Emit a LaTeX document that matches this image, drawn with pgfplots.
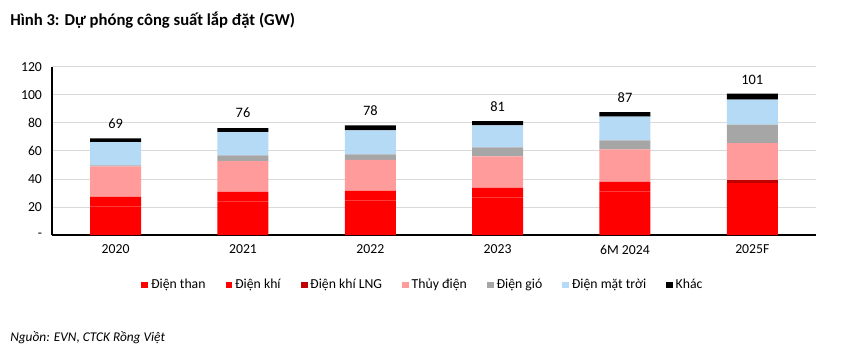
\documentclass[border=0pt]{standalone}
\usepackage{pgfplots}
\pgfplotsset{compat=1.18}
\usepackage{pgfplotstable}
\usepackage{fontspec}
\setmainfont{Carlito}
\definecolor{cThan}{HTML}{FF0000}
\definecolor{cKhi}{HTML}{FF0000}
\definecolor{cLNG}{HTML}{C00000}
\definecolor{cThuy}{HTML}{FF9B9B}
\definecolor{cGio}{HTML}{A6A6A6}
\definecolor{cMT}{HTML}{B4DAF5}
\definecolor{cKhac}{HTML}{000000}
\pgfplotstableread{
x than khi lng thuy gio mattroi khac total
0 20.4 6.8 0 21.8 0.6 16.6 2.8 69
1 24.0 6.8 0 21.8 4.2 16.6 2.8 76
2 24.7 6.8 0 22.0 4.0 17.1 3.5 78
3 26.8 6.8 0 22.5 6.4 15.6 3.1 81
4 31.0 6.9 0 23.2 6.4 17.0 3.1 87
5 30.0 7.0 2.4 26.2 13.2 17.8 4.3 101
}\data
\begin{document}
\begin{tikzpicture}
\path[use as bounding box] (0,0) rectangle (645pt,266.25pt);
\node[anchor=base west,font=\bfseries\fontsize{12.5}{14}\selectfont,inner sep=0pt] at (7.5pt,247pt) {Hình 3: Dự phóng công suất lắp đặt (GW)};
\node[anchor=base west,font=\itshape\fontsize{10}{12}\selectfont,inner sep=0pt] at (7.5pt,10.5pt) {Nguồn: EVN, CTCK Rồng Việt};
\begin{axis}[
  at={(39pt,90pt)}, anchor=south west,
  scale only axis, width=573pt, height=126.2pt,
  ybar stacked, bar width=38.25pt,
  xmin=-0.5, xmax=5.5, ymin=0, ymax=120,
  xtick={0,1,2,3,4,5},
  xticklabels={2020,2021,2022,2023,6M 2024,2025F},
  ytick={0,20,40,60,80,100,120},
  yticklabels={-,20,40,60,80,100,120},
  /pgf/number format/assume math mode=true,
  axis x line*=bottom, axis y line*=left,
  axis line style={black, line width=0.8pt},
  major tick length=0pt,
  ymajorgrids, grid style={draw=black!15, line width=0.6pt},
  ticklabel style={font=\fontsize{10.3}{12}\selectfont},
  xticklabel style={yshift=-4pt},
  yticklabel style={xshift=-4pt},
  legend columns=7,
  legend style={at={(0.486,-0.297)}, anchor=center, draw=none, fill=none,
    font=\fontsize{10.3}{12}\selectfont,
    /tikz/every even column/.append style={column sep=13pt}},
  legend image code/.code={\fill[#1] (0pt,-2.6pt) rectangle (5.2pt,2.6pt);},
]
\addplot[fill=cThan, draw=none] table[x=x,y=than]{\data};
\addplot[fill=cKhi, draw=none] table[x=x,y=khi]{\data};
\addplot[fill=cLNG, draw=none] table[x=x,y=lng]{\data};
\addplot[fill=cThuy, draw=none] table[x=x,y=thuy]{\data};
\addplot[fill=cGio, draw=none] table[x=x,y=gio]{\data};
\addplot[fill=cMT, draw=none] table[x=x,y=mattroi]{\data};
\addplot[fill=cKhac, draw=none, point meta=explicit,
  nodes near coords, nodes near coords style={font=\fontsize{10.8}{12}\selectfont, anchor=south, yshift=5.5pt, black}]
  table[x=x,y=khac,meta=total]{\data};
\legend{Điện than, Điện khí, Điện khí LNG, Thủy điện, Điện gió, Điện mặt trời, Khác}
\end{axis}
\end{tikzpicture}
\end{document}
